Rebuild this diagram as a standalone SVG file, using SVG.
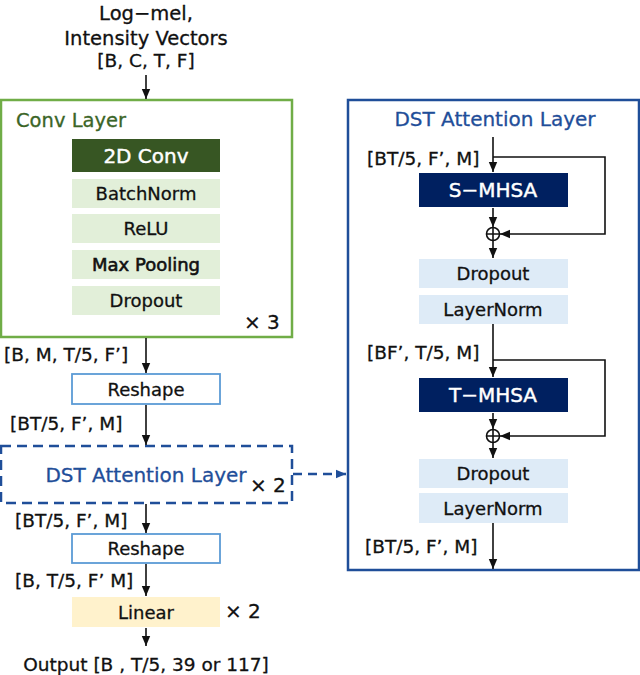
<svg xmlns="http://www.w3.org/2000/svg" width="640" height="675" viewBox="0 0 640 675">
<style>
text{font-family:"DejaVu Sans","Noto Sans",Verdana,sans-serif;fill:#111;stroke:#111;stroke-width:0.3}
.t{font-size:19.5px}
.c{text-anchor:middle}
.lbl{font-size:18.5px}
.blk{font-size:18px;text-anchor:middle}
.w{fill:#fff;stroke:#fff;stroke-width:0.45;font-size:20px;text-anchor:middle}
.ln{stroke:#111;stroke-width:1.6;fill:none}
.gl{fill:#e2efd9}
.bl{fill:#deebf7}
.ttl{font-size:20px;fill:#1f4e99;stroke:#1f4e99;text-anchor:middle}
.x{font-size:20px}
</style>
<defs>
<marker id="ah" markerUnits="userSpaceOnUse" markerWidth="10" markerHeight="10" viewBox="0 0 10 10" refX="10" refY="5" orient="auto"><path d="M0,0.8 L10,5 L0,9.2 z" fill="#111"/></marker>
<marker id="ahb" markerUnits="userSpaceOnUse" markerWidth="10" markerHeight="10" viewBox="0 0 10 10" refX="10" refY="5" orient="auto"><path d="M0,0.8 L10,5 L0,9.2 z" fill="#1f4e99"/></marker>
</defs>

<g id="input">
<text class="t c" x="146" y="20">Log−mel,</text>
<text class="t c" x="146" y="45">Intensity Vectors</text>
<text class="lbl c" x="146" y="67">[B, C, T, F]</text>
</g>

<g id="conv-layer">
<rect x="1" y="100" width="291" height="237" fill="#fff" stroke="#70ad47" stroke-width="2.5"/>
<text x="16" y="127" style="font-size:19.5px;fill:#3b6527;stroke:#3b6527">Conv Layer</text>
<rect x="72" y="139" width="148" height="33" fill="#375623"/>
<text class="w" x="146" y="163">2D Conv</text>
<rect class="gl" x="72" y="179" width="148" height="29"/>
<text class="blk" x="146" y="200">BatchNorm</text>
<rect class="gl" x="72" y="214" width="148" height="29"/>
<text class="blk" x="146" y="235">ReLU</text>
<rect class="gl" x="72" y="250" width="148" height="29"/>
<text class="blk" x="146" y="271" style="stroke-width:0.6">Max Pooling</text>
<rect class="gl" x="72" y="286" width="148" height="29"/>
<text class="blk" x="146" y="307">Dropout</text>
<text class="x" x="244" y="329">× 3</text>
</g>

<g id="reshape1">
<rect x="72" y="374" width="148" height="30" fill="#fff" stroke="#5b9bd5" stroke-width="1.8"/>
<text class="blk" x="146" y="396">Reshape</text>
</g>

<g id="dst-compact">
<rect x="1" y="446" width="291" height="57" fill="none" stroke="#1f4e99" stroke-width="2.5" stroke-dasharray="10,6"/>
<text class="ttl" x="146" y="482">DST Attention Layer</text>
<text class="x" x="250" y="492">× 2</text>
</g>

<g id="reshape2">
<rect x="72" y="534" width="148" height="29" fill="#fff" stroke="#5b9bd5" stroke-width="1.8"/>
<text class="blk" x="146" y="555">Reshape</text>
</g>

<g id="linear">
<rect x="72" y="597" width="148" height="30" fill="#fff2cc"/>
<text class="blk" x="146" y="619">Linear</text>
<text class="x" x="225" y="618">× 2</text>
</g>

<g id="output">
<text class="lbl c" x="146" y="671">Output [B , T/5, 39 or 117]</text>
</g>

<g id="dst-detail">
<rect x="348" y="100" width="291" height="470" fill="#fff" stroke="#1f4e99" stroke-width="2.5"/>
<text class="ttl" x="495" y="126">DST Attention Layer</text>
<rect x="419" y="173" width="149" height="34" fill="#002060"/>
<text class="w" x="493" y="197">S−MHSA</text>
<circle cx="493" cy="234" r="6.5" fill="#fff" stroke="#111" stroke-width="1.6"/>
<path class="ln" d="M486.5,234 H499.5 M493,227.5 V240.5"/>
<rect class="bl" x="419" y="259" width="149" height="29"/>
<text class="blk" x="493" y="280">Dropout</text>
<rect class="bl" x="419" y="295" width="149" height="29"/>
<text class="blk" x="493" y="316">LayerNorm</text>
<rect x="419" y="378" width="149" height="34" fill="#002060"/>
<text class="w" x="493" y="402">T−MHSA</text>
<circle cx="493" cy="436" r="6.5" fill="#fff" stroke="#111" stroke-width="1.6"/>
<path class="ln" d="M486.5,436 H499.5 M493,429.5 V442.5"/>
<rect class="bl" x="419" y="459" width="149" height="29"/>
<text class="blk" x="493" y="480">Dropout</text>
<rect class="bl" x="419" y="493" width="149" height="30"/>
<text class="blk" x="493" y="515">LayerNorm</text>
</g>

<g id="labels">
<text class="lbl" x="4" y="361">[B, M, T/5, F’]</text>
<text class="lbl" x="10" y="430">[BT/5, F’, M]</text>
<text class="lbl" x="15" y="527">[BT/5, F’, M]</text>
<text class="lbl" x="15" y="587">[B, T/5, F’ M]</text>
<text class="lbl" x="367" y="165">[BT/5, F’, M]</text>
<text class="lbl" x="367" y="359">[BF’, T/5, M]</text>
<text class="lbl" x="365" y="553">[BT/5, F’, M]</text>
</g>

<g id="connectors">
<path class="ln" d="M146,75 V99" marker-end="url(#ah)"/>
<path class="ln" d="M146,338 V373" marker-end="url(#ah)"/>
<path class="ln" d="M146,405 V445" marker-end="url(#ah)"/>
<path class="ln" d="M146,504 V533" marker-end="url(#ah)"/>
<path class="ln" d="M146,564 V596" marker-end="url(#ah)"/>
<path class="ln" d="M146,628 V646" marker-end="url(#ah)"/>
<path d="M293,474 H346" fill="none" stroke="#1f4e99" stroke-width="2.5" stroke-dasharray="9,6" marker-end="url(#ahb)"/>
<path class="ln" d="M493,137 V172" marker-end="url(#ah)"/>
<path class="ln" d="M493,157 H605 V234 H500" marker-end="url(#ah)"/>
<path class="ln" d="M493,208 V227" marker-end="url(#ah)"/>
<path class="ln" d="M493,241 V258" marker-end="url(#ah)"/>
<path class="ln" d="M493,324 V377" marker-end="url(#ah)"/>
<path class="ln" d="M493,360 H605 V436 H500" marker-end="url(#ah)"/>
<path class="ln" d="M493,413 V429" marker-end="url(#ah)"/>
<path class="ln" d="M493,443 V458" marker-end="url(#ah)"/>
<path class="ln" d="M493,523 V569" marker-end="url(#ah)"/>
</g>
</svg>
